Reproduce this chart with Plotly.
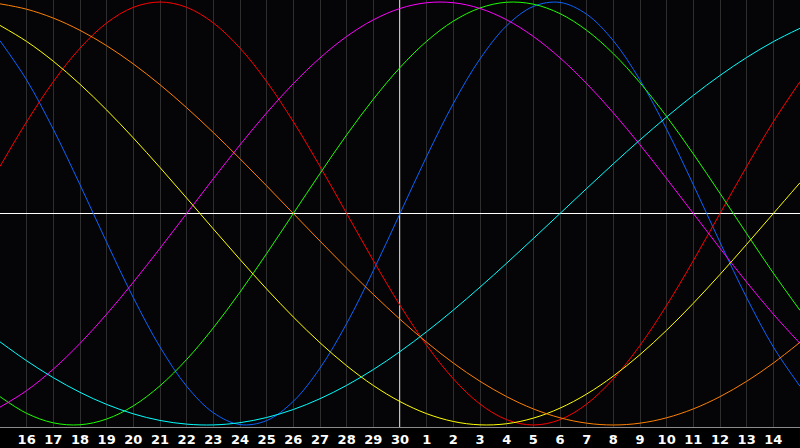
import plotly.graph_objects as go

# Day positions (0 = 15th of previous month, 30 = 15th of next month)
day_index = list(range(31))
tick_positions = list(range(1, 30))
tick_labels = ["16", "17", "18", "19", "20", "21", "22", "23", "24", "25", "26", "27", "28", "29", "30",
               "1", "2", "3", "4", "5", "6", "7", "8", "9", "10", "11", "12", "13", "14"]
today_index = 15

red_vals = [0.2225, 0.4339, 0.6235, 0.7818, 0.9010, 0.9749, 1.0, 0.9749, 0.9010, 0.7818, 0.6235,
            0.4339, 0.2225, 0.0, -0.2225, -0.4339, -0.6235, -0.7818, -0.9010, -0.9749, -1.0,
            -0.9749, -0.9010, -0.7818, -0.6235, -0.4339, -0.2225, 0.0, 0.2225, 0.4339, 0.6235]
orange_vals = [0.9914, 0.9659, 0.9239, 0.8660, 0.7934, 0.7071, 0.6088, 0.5, 0.3827, 0.2588, 0.1305,
               0.0, -0.1305, -0.2588, -0.3827, -0.5, -0.6088, -0.7071, -0.7934, -0.8660, -0.9239,
               -0.9659, -0.9914, -1.0, -0.9914, -0.9659, -0.9239, -0.8660, -0.7934, -0.7071, -0.6088]
yellow_vals = [0.8893, 0.8133, 0.7199, 0.6112, 0.4894, 0.3572, 0.2174, 0.0730, -0.0730, -0.2174, -0.3572,
               -0.4894, -0.6112, -0.7199, -0.8133, -0.8893, -0.9465, -0.9834, -0.9993, -0.9940, -0.9675,
               -0.9203, -0.8536, -0.7687, -0.6673, -0.5517, -0.4244, -0.2881, -0.1456, 0.0, 0.1456]
green_vals = [-0.8660, -0.9450, -0.9898, -0.9989, -0.9718, -0.9096, -0.8146, -0.6901, -0.5406, -0.3717, -0.1893,
              0.0, 0.1893, 0.3717, 0.5406, 0.6901, 0.8146, 0.9096, 0.9718, 0.9989, 0.9898,
              0.9450, 0.8660, 0.7557, 0.6182, 0.4582, 0.2817, 0.0951, -0.0951, -0.2817, -0.4582]
cyan_vals = [-0.6068, -0.6966, -0.7765, -0.8456, -0.9028, -0.9473, -0.9786, -0.9960, -0.9996, -0.9890, -0.9646,
             -0.9267, -0.8757, -0.8125, -0.7378, -0.6528, -0.5586, -0.4566, -0.3482, -0.2349, -0.1183,
             0.0, 0.1183, 0.2349, 0.3482, 0.4566, 0.5586, 0.6528, 0.7378, 0.8125, 0.8757]
blue_vals = [0.817, 0.631, 0.398, 0.136, -0.136, -0.398, -0.631, -0.817, -0.942, -0.998, -0.979,
             -0.888, -0.731, -0.520, -0.270, 0.0, 0.270, 0.520, 0.731, 0.888, 0.979,
             0.998, 0.942, 0.817, 0.631, 0.398, 0.136, -0.136, -0.398, -0.631, -0.817]
magenta_vals = [-0.9158, -0.8372, -0.7357, -0.6142, -0.4759, -0.3247, -0.1646, 0.0, 0.1646, 0.3247, 0.4759,
                0.6142, 0.7357, 0.8372, 0.9158, 0.9694, 0.9966, 0.9966, 0.9694, 0.9158, 0.8372,
                0.7357, 0.6142, 0.4759, 0.3247, 0.1646, 0.0, -0.1646, -0.3247, -0.4759, -0.6142]

series = [
    ("Physical", blue_vals, "#0a64ff"),
    ("Emotional", red_vals, "#ff0000"),
    ("Intellectual", green_vals, "#1eff00"),
    ("Intuitive", magenta_vals, "#ff00ff"),
    ("Aesthetic", yellow_vals, "#ffff00"),
    ("Awareness", orange_vals, "#ff8000"),
    ("Spiritual", cyan_vals, "#00ffff"),
]

fig = go.Figure()
for name, vals, color in series:
    fig.add_trace(go.Scatter(
        x=day_index, y=vals, mode="lines", name=name,
        line=dict(color=color, width=1, shape="spline", smoothing=1.0),
        hoverinfo="skip",
    ))

fig.add_vline(x=today_index, line=dict(color="#ffffff", width=1.5), layer="below")

fig.update_layout(
    width=800, height=448,
    margin=dict(l=0, r=0, t=0, b=21),
    paper_bgcolor="#000000",
    plot_bgcolor="#050507",
    showlegend=False,
    xaxis=dict(
        range=[0, 30],
        tickmode="array", tickvals=tick_positions, ticktext=tick_labels,
        showgrid=True, gridcolor="#2e2e2e", gridwidth=1,
        zeroline=False,
        showline=True, linecolor="#8c8c8c", linewidth=1, mirror=True,
        ticks="", ticklen=0,
        tickfont=dict(family="DejaVu Sans", size=13, color="#ffffff", weight="bold"),
        fixedrange=True,
    ),
    yaxis=dict(
        range=[-1.0095, 1.0095],
        showgrid=False, showticklabels=False, ticks="",
        zeroline=True, zerolinecolor="#ffffff", zerolinewidth=1,
        showline=True, linecolor="#8c8c8c", linewidth=1, mirror=True,
        fixedrange=True,
    ),
)

fig.write_html(
    "out.html",
    config={"displayModeBar": False, "staticPlot": True},
    post_script="document.body.style.margin='0';document.body.style.overflow='hidden';",
)
